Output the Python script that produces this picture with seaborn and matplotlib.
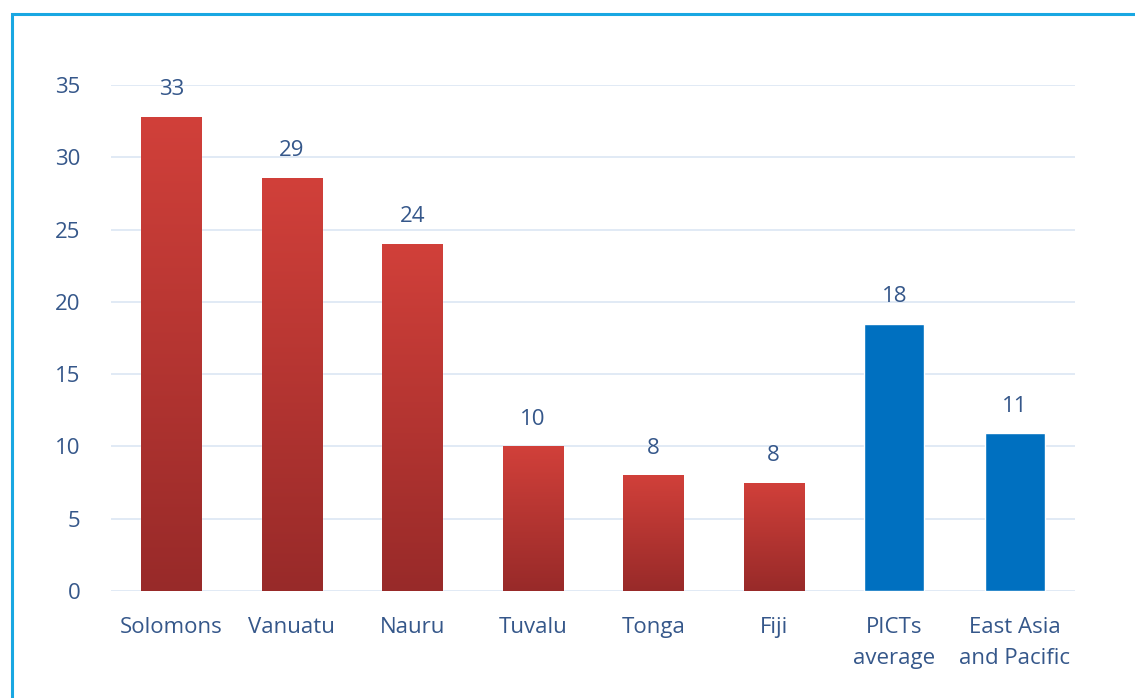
import numpy as np
import pandas as pd
import matplotlib
matplotlib.use("Agg")
import matplotlib.pyplot as plt
from matplotlib.patches import Rectangle
from matplotlib.colors import LinearSegmentedColormap
import seaborn as sns

# Data
countries = ["Solomons", "Vanuatu", "Nauru", "Tuvalu", "Tonga", "Fiji",
             "PICTs\naverage", "East Asia\nand Pacific"]
values = [32.8, 28.6, 24.0, 10.0, 8.0, 7.5, 18.5, 10.9]
labels = ["33", "29", "24", "10", "8", "8", "18", "11"]
group = ["country"] * 6 + ["regional"] * 2
yticks = [0, 5, 10, 15, 20, 25, 30, 35]

df = pd.DataFrame({"country": countries, "value": values, "group": group})

sns.set_theme(style="white")
plt.rcParams["font.family"] = ["Open Sans", "DejaVu Sans"]

text_col = "#35578A"
grid_col = "#DCE6F3"
blue = "#0070C0"
red_top = "#D1403A"
red_bottom = "#982A29"
fs = 16

fig = plt.figure(figsize=(11.35, 6.98), dpi=100)
ax = fig.add_axes([111 / 1135, 107 / 698, (1075 - 111) / 1135, (591 - 85) / 698])

sns.barplot(data=df, x="country", y="value", hue="group",
            palette={"country": red_top, "regional": blue}, saturation=1,
            width=0.5, dodge=False, legend=False, ax=ax, zorder=3)

# vertical gradient fill for the country bars
cmap = LinearSegmentedColormap.from_list("redgrad", [red_bottom, red_top])
grad = np.linspace(0, 1, 256).reshape(-1, 1)
for patch, g in zip(ax.patches, group):
    if g != "country":
        continue
    x0, y0 = patch.get_x(), patch.get_y()
    w, h = patch.get_width(), patch.get_height()
    im = ax.imshow(grad, cmap=cmap, origin="lower", aspect="auto",
                   extent=(x0, x0 + w, y0, y0 + h), zorder=3.5)
    im.set_clip_path(patch)
ax.set_ylim(0, 35)
ax.set_xlim(-0.5, len(countries) - 0.5)

# value labels
for patch, lab in zip(ax.patches, labels):
    ax.annotate(lab, (patch.get_x() + patch.get_width() / 2, patch.get_height()),
                xytext=(0, 12), textcoords="offset points",
                ha="center", va="bottom", fontsize=fs, color=text_col)

ax.set_yticks(yticks)
ax.yaxis.grid(True, color=grid_col, linewidth=1.2, zorder=0)
ax.set_axisbelow(True)
for s in ax.spines.values():
    s.set_visible(False)
ax.set_xlabel("")
ax.set_ylabel("")
ax.tick_params(axis="both", length=0, labelsize=fs, labelcolor=text_col)
ax.tick_params(axis="x", pad=19)
ax.tick_params(axis="y", pad=22)
for t in ax.get_xticklabels():
    t.set_linespacing(1.6)

# frame around the chart
fig.patches.append(Rectangle((12 / 1135, -0.05), 1.1, 1 - 14 / 698 + 0.05,
                             transform=fig.transFigure, fill=False,
                             edgecolor="#19A7E2", linewidth=2.2))

fig.savefig("out.png", dpi=100)
